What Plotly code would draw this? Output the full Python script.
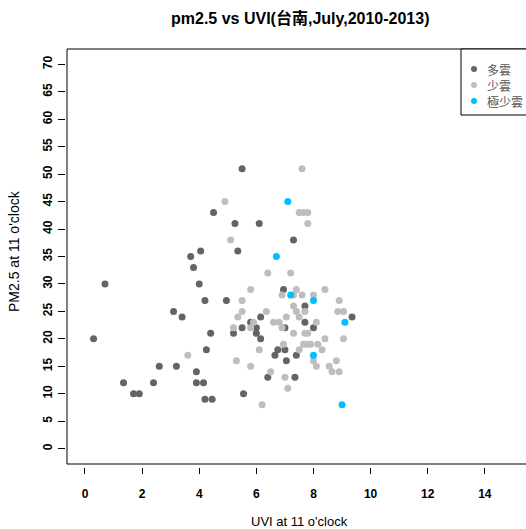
import plotly.graph_objects as go

# ---------------- data ----------------
cat_names = ["多雲", "少雲", "極少雲"]
cat_colors = ["#646464", "#bebebe", "#00bfff"]

cloudy_uvi = [0.3, 0.7, 1.35, 1.7, 1.9, 2.4, 2.6, 3.1, 3.2, 3.4, 3.7, 3.8, 3.9, 3.9, 4.0, 4.05, 4.15,
              4.2, 4.2, 4.25, 4.4, 4.45, 4.5, 4.95, 5.2, 5.25, 5.35, 5.5, 5.5, 5.55, 5.8, 6.0, 6.0,
              6.1, 6.15, 6.15, 6.4, 6.65, 6.75, 6.95, 7.0, 7.0, 7.05, 7.3, 7.35, 7.4, 7.7, 7.7, 8.0, 9.35]
cloudy_pm = [20, 30, 12, 10, 10, 12, 15, 25, 15, 24, 35, 33, 14, 12, 30, 36, 12,
             27, 9, 18, 21, 9, 43, 27, 21, 41, 36, 22, 51, 10, 23, 22, 21,
             41, 24, 20, 13, 17, 18, 29, 22, 18, 16, 38, 13, 17, 26, 23, 22, 24]

partly_uvi = [3.6, 4.9, 5.1, 5.2, 5.3, 5.35, 5.5, 5.5, 5.8, 5.8, 5.8, 5.9, 6.1, 6.2, 6.35, 6.4, 6.5,
              6.6, 6.8, 6.9, 6.9, 6.95, 7.0, 7.05, 7.1, 7.2, 7.3, 7.3, 7.3, 7.4, 7.4, 7.5, 7.5, 7.5,
              7.6, 7.6, 7.65, 7.65, 7.7, 7.7, 7.8, 7.8, 7.8, 7.8, 7.9, 8.0, 8.0, 8.1, 8.1, 8.15, 8.3,
              8.4, 8.4, 8.55, 8.65, 8.8, 8.85, 8.9, 8.9, 9.05, 9.05]
partly_pm = [17, 45, 38, 22, 16, 24, 27, 25, 29, 22, 15, 23, 18, 8, 25, 32, 14,
             23, 23, 28, 22, 19, 13, 24, 11, 32, 28, 26, 21, 29, 25, 43, 24, 18,
             51, 28, 43, 19, 25, 21, 43, 41, 21, 19, 19, 28, 16, 23, 15, 19, 18,
             29, 20, 15, 14, 16, 25, 27, 14, 25, 20]

clear_uvi = [7.1, 6.7, 7.2, 8.0, 9.1, 8.0, 9.0]
clear_pm = [45, 35, 28, 27, 23, 17, 8]

x_ticks = [0, 2, 4, 6, 8, 10, 12, 14]
y_ticks = list(range(0, 75, 5))

title_text = "pm2.5 vs UVI(台南,July,2010-2013)"
x_title = "UVI at 11 o'clock"
y_title = "PM2.5 at 11 o'clock"

# ---------------- layout geometry ----------------
W, H = 526, 529
ML, MR, MT, MB = 65, 0, 49, 62
PW, PH = W - ML - MR, H - MT - MB

def pxx(px):
    return (px - ML) / PW

def pxy(py):
    return (H - MB - py) / PH

FONT = "Liberation Sans, Arial, Noto Sans CJK TC, sans-serif"

fig = go.Figure()
series = [(cloudy_uvi, cloudy_pm), (partly_uvi, partly_pm), (clear_uvi, clear_pm)]
for (xs, ys), name, col in zip(series, cat_names, cat_colors):
    fig.add_trace(go.Scatter(x=xs, y=ys, mode="markers", name=name,
                             marker=dict(color=col, size=7, line=dict(width=0)),
                             showlegend=False))

fig.update_layout(
    width=W, height=H,
    margin=dict(l=ML, r=MR, t=MT, b=MB, pad=0),
    paper_bgcolor="white", plot_bgcolor="white",
    font=dict(family=FONT, color="black"),
    xaxis=dict(domain=[2 / PW, 1], range=[-0.63, 15.44], anchor="free", position=0,
               tickmode="array", tickvals=x_ticks, ticktext=[str(v) for v in x_ticks],
               ticks="outside", ticklen=6, tickwidth=1, tickcolor="black",
               showgrid=False, zeroline=False, showline=False,
               tickfont=dict(size=12, weight="bold", color="black"),
               ticklabelstandoff=10),
    yaxis=dict(domain=[3 / PH, 1], range=[-2.8, 72.8], anchor="free", position=0,
               tickmode="array", tickvals=y_ticks, ticktext=[str(v) for v in y_ticks],
               ticks="outside", ticklen=7, tickwidth=1, tickcolor="black",
               showgrid=False, zeroline=False, showline=False, tickangle=-90,
               tickfont=dict(size=12, weight="bold", color="black"),
               ticklabelstandoff=1),
)

shapes = [
    dict(type="rect", xref="paper", yref="paper", x0=pxx(67), x1=pxx(532),
         y0=pxy(464), y1=pxy(49), line=dict(color="black", width=1), layer="above"),
    # legend box
    dict(type="rect", xref="paper", yref="paper", x0=pxx(461), x1=pxx(532),
         y0=pxy(115), y1=pxy(49), line=dict(color="black", width=1),
         fillcolor="white", layer="above"),
]
legend_rows = [69, 85, 101]
for row, col in zip(legend_rows, cat_colors):
    shapes.append(dict(type="circle", xref="paper", yref="paper",
                       x0=pxx(471), x1=pxx(477), y0=pxy(row + 3), y1=pxy(row - 3),
                       fillcolor=col, line=dict(width=0), layer="above"))
fig.update_layout(shapes=shapes)

annotations = [
    dict(text="<b>" + title_text + "</b>", x=pxx(300), y=pxy(18), xref="paper", yref="paper",
         xanchor="center", yanchor="middle", showarrow=False, font=dict(size=16, color="black")),
    dict(text=x_title, x=pxx(299), y=pxy(521), xref="paper", yref="paper",
         xanchor="center", yanchor="middle", showarrow=False, font=dict(size=13, color="black")),
    dict(text=y_title, x=pxx(14), y=pxy(251), xref="paper", yref="paper", textangle=-90,
         xanchor="center", yanchor="middle", showarrow=False, font=dict(size=14, color="black")),
]
for row, name in zip(legend_rows, cat_names):
    annotations.append(dict(text=name, x=pxx(485), y=pxy(row), xref="paper", yref="paper",
                            xanchor="left", yanchor="middle", showarrow=False,
                            font=dict(size=12, color="#555555",
                                      family="Noto Sans CJK TC, sans-serif")))
fig.update_layout(annotations=annotations)

fig.write_html("out.html")
